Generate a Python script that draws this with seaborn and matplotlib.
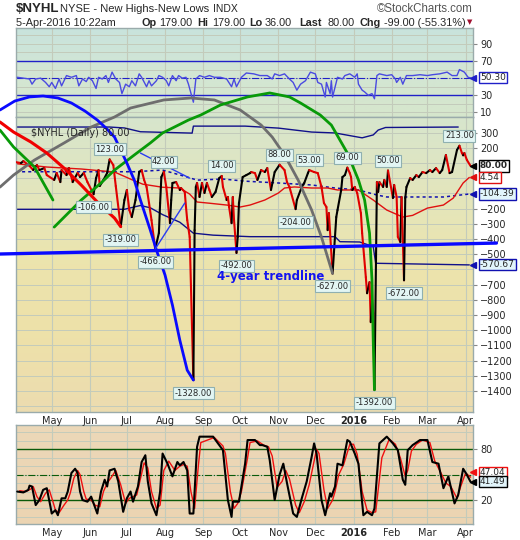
import numpy as np
import pandas as pd
import matplotlib
matplotlib.use("Agg")
import matplotlib.pyplot as plt
import matplotlib.dates as mdates
import matplotlib.transforms as mtransforms
from matplotlib.collections import LineCollection
from matplotlib.colors import LinearSegmentedColormap
from matplotlib.lines import Line2D
import seaborn as sns

# === style ===
sns.set_style("white")
plt.rcParams["font.family"] = ["DejaVu Sans"]
plt.rcParams["savefig.dpi"] = 100

W, H = 520, 540
BASE = pd.Timestamp("2015-04-02")  # first bar of the chart, overlays are "days after BASE"

# === $NYHL daily values ===
NYHL_DATES = [
    "2015-04-02", "2015-04-06", "2015-04-08", "2015-04-13", "2015-04-16", "2015-04-19", "2015-04-21",
    "2015-04-25", "2015-04-27", "2015-05-03", "2015-05-05", "2015-05-08", "2015-05-09", "2015-05-13",
    "2015-05-15", "2015-05-18", "2015-05-22", "2015-05-24", "2015-05-27", "2015-05-30", "2015-06-04",
    "2015-06-06", "2015-06-08", "2015-06-09", "2015-06-12", "2015-06-15", "2015-06-17", "2015-06-20",
    "2015-06-22", "2015-06-26", "2015-06-29", "2015-07-01", "2015-07-03", "2015-07-05", "2015-07-08",
    "2015-07-11", "2015-07-13", "2015-07-15", "2015-07-17", "2015-07-19", "2015-07-21", "2015-07-24",
    "2015-07-27", "2015-07-28", "2015-07-29", "2015-07-31", "2015-08-02", "2015-08-05", "2015-08-06",
    "2015-08-07", "2015-08-10", "2015-08-13", "2015-08-14", "2015-08-17", "2015-08-18", "2015-08-19",
    "2015-08-21", "2015-08-24", "2015-08-25", "2015-08-26", "2015-08-27", "2015-08-29", "2015-08-31",
    "2015-09-02", "2015-09-04", "2015-09-06", "2015-09-08", "2015-09-11", "2015-09-14", "2015-09-16",
    "2015-09-17", "2015-09-20", "2015-09-21", "2015-09-22", "2015-09-24", "2015-09-25", "2015-09-26",
    "2015-09-28", "2015-09-29", "2015-09-30", "2015-10-03", "2015-10-06", "2015-10-09", "2015-10-10",
    "2015-10-13", "2015-10-15", "2015-10-18", "2015-10-21", "2015-10-23", "2015-10-26", "2015-10-29",
    "2015-11-02", "2015-11-06", "2015-11-08", "2015-11-10", "2015-11-15", "2015-11-16", "2015-11-20",
    "2015-11-22", "2015-11-25", "2015-11-26", "2015-11-30", "2015-12-03", "2015-12-06", "2015-12-08",
    "2015-12-10", "2015-12-11", "2015-12-12", "2015-12-15", "2015-12-18", "2015-12-19", "2015-12-22",
    "2015-12-23", "2015-12-25", "2015-12-27", "2015-12-29", "2015-12-30", "2015-12-31", "2016-01-02",
    "2016-01-04", "2016-01-07", "2016-01-08", "2016-01-11", "2016-01-12", "2016-01-14", "2016-01-15",
    "2016-01-16", "2016-01-17", "2016-01-18", "2016-01-20", "2016-01-21", "2016-01-22", "2016-01-25",
    "2016-01-26", "2016-01-28", "2016-01-29", "2016-02-02", "2016-02-03", "2016-02-05", "2016-02-06",
    "2016-02-08", "2016-02-09", "2016-02-11", "2016-02-12", "2016-02-13", "2016-02-16", "2016-02-18",
    "2016-02-21", "2016-02-23", "2016-02-26", "2016-02-29", "2016-03-03", "2016-03-05", "2016-03-08",
    "2016-03-11", "2016-03-13", "2016-03-16", "2016-03-19", "2016-03-21", "2016-03-25", "2016-03-27",
    "2016-03-29", "2016-03-30", "2016-03-31", "2016-04-02", "2016-04-05",
]
NYHL_VALUES = [
    105, 99, 112, 80, 53, 86, 53, 66, 20, -12, 34, -26, 53, 20,
    66, -26, 34, 7, 34, -26, -106, 0, 53, -52, -12, 34, 123, 86,
    -52, -319, -144, -78, -210, -256, -144, 40, 53, -12, -58, -164, -276, -466,
    -361, -164, 7, 42, -58, -296, -144, -32, -26, -78, -65, -91, -190, -276,
    -387, -1328, -342, -58, -32, -124, -32, -98, -32, -78, -124, -91, 0, 14,
    -58, -144, -124, -190, -296, -124, -276, -492, -387, -164, 7, 20, 33, 40,
    33, -12, 53, 40, 66, -78, 40, 88, 53, -26, -58, -204, -144, -58,
    -32, 33, 53, 40, 33, -58, -164, -190, -342, -230, -627, -256, -210, -78,
    7, 20, 69, 33, 7, -78, -58, -98, -230, -362, -651, -757, -684, -947,
    -800, -888, -1392, -26, -91, -26, -58, -12, -58, 50, -131, -45, -124, -387,
    -420, -124, -672, -131, -58, 0, -12, 20, 7, 40, 33, 53, 40, 66,
    33, 53, 152, 33, 40, 185, 213, 165, 150, 165, 120, 80,
]

# callout boxes on the price line
LABEL_DATES = ["2015-06-04", "2015-06-17", "2015-06-26", "2015-07-24", "2015-07-31", "2015-08-24",
               "2015-09-16", "2015-09-28", "2015-11-02", "2015-11-15", "2015-11-26", "2015-12-15",
               "2015-12-27", "2016-01-18", "2016-01-29", "2016-02-11", "2016-03-27"]
LABEL_VALUES = [-106, 123, -319, -466, 42, -1328, 14, -492, 88, -204, 53, -627, 69, -1392, 50, -672, 213]

# moving averages and bands (days after BASE)
MA_FAST_DAY = [0, 11, 25, 53, 80, 94, 103, 119, 133, 141, 147, 157, 171, 182, 190, 202, 213, 218,
               226, 240, 253, 261, 278, 290, 301, 314, 322, 334, 347, 355, 363, 368]
MA_FAST = [95, 85, 73, 60, 40, -10, -40, -60, -65, -105, -157, -165, -177, -190, -177, -144, -98, -65,
           -58, -65, -65, -78, -78, -144, -210, -256, -245, -197, -177, -131, -32, 4.54]
MA_SLOW_DAY = [0, 96, 119, 139, 147, 168, 186, 213, 240, 259, 278, 293, 301, 347, 368]
MA_SLOW = [42, 42, 53, 7, -13, -6, -20, -32, -45, -65, -78, -111, -124, -124, -104.39]
BAND_UP_DAY = [0, 76, 88, 101, 143, 144, 186, 213, 240, 259, 281, 290, 294, 300, 359]
BAND_UP = [336, 336, 330, 305, 296, 342, 342, 329, 303, 297, 265, 284, 316, 333, 336]
BAND_LO_DAY = [0, 88, 101, 109, 119, 133, 144, 160, 190, 259, 263, 279, 290, 292, 368]
BAND_LO = [-205, -205, -180, -195, -240, -290, -362, -375, -385, -385, -418, -420, -450, -560, -570.67]

# hand-drawn annotations (days after BASE, value)
ARC_BLUE_DAY = [-13, -1, 11, 22, 34, 45, 56, 66, 73, 80, 85, 90, 96, 101, 109, 114, 121, 127, 133, 139, 144]
ARC_BLUE = [448, 507, 534, 540, 527, 494, 441, 382, 330, 270, 185, 99, -12, -144, -341, -473, -638,
            -835, -1066, -1263, -1328]
ARC_GRAY_DAY = [-13, -2, 15, 39, 61, 80, 93, 120, 142, 161, 182, 199, 208, 218, 229, 240, 248, 257]
ARC_GRAY = [-59, 20, 119, 231, 336, 402, 461, 514, 527, 514, 448, 349, 270, 152, -12, -210, -388, -627]
ARC_GREEN_DAY = [31, 53, 69, 80, 96, 109, 119, 140, 150, 166, 188, 206, 222, 231, 247, 256, 269, 278,
                 283, 287, 289, 290, 291]
ARC_GREEN = [-322, -144, -32, 53, 152, 231, 297, 382, 415, 481, 534, 560, 534, 494, 415, 349, 165, -12,
             -144, -362, -671, -1066, -1392]
ARC_GREEN2_DAY = [-13, -2, 15, 30]
ARC_GREEN2 = [316, 205, 73, -144]
ARC_RED_DAY = [-13, -2, 12, 25, 39, 53, 66, 80, 85]
ARC_RED = [369, 303, 238, 165, 66, -46, -157, -263, -319]
THIN1_DAY, THIN1 = [113, 137], [-466, -164]
THIN2_DAY, THIN2 = [101, 141], [165, 0]
TREND_DAY, TREND = [-13, 390], [-499, -427]

# === upper panel oscillator ===
RSI_DAY = [1, 6, 11, 13, 16, 20, 24, 27, 29, 32, 35, 37, 41, 45, 49, 51, 54, 57, 59, 62, 65, 67, 70, 73,
           75, 78, 81, 84, 86, 89, 92, 94, 97, 100, 102, 106, 108, 110, 114, 116, 119, 122, 124, 127,
           130, 132, 135, 138, 140, 144, 146, 149, 153, 157, 161, 166, 171, 175, 177, 179, 183, 187,
           193, 198, 204, 208, 210, 214, 218, 222, 225, 228, 231, 235, 239, 243, 245, 248, 251, 252,
           255, 256, 257, 261, 265, 267, 271, 275, 277, 278, 281, 283, 286, 289, 291, 293, 295, 301,
           305, 308, 309, 312, 314, 317, 322, 328, 334, 338, 344, 350, 354, 358, 360, 364, 367, 369]
RSI = [51, 50, 49, 43, 49, 50, 45, 40, 45, 38, 49, 41, 53, 51, 53, 41, 49, 46, 51, 47, 38, 51, 49, 53,
       45, 57, 49, 45, 32, 43, 40, 47, 41, 55, 51, 40, 47, 41, 47, 53, 51, 47, 41, 53,
       47, 53, 50, 51, 43, 22, 49, 53, 51, 53, 51, 51, 49, 40, 49, 40, 51, 56,
       55, 53, 53, 49, 55, 53, 55, 49, 45, 36, 43, 47, 57, 55, 45, 43, 28, 45,
       32, 47, 28, 51, 49, 53, 55, 51, 55, 43, 36, 34, 30, 32, 26, 53, 55, 53,
       54, 49, 45, 51, 43, 53, 53, 54, 53, 54, 55, 57, 53, 53, 60, 57, 51, 50.3]

# === lower panel stochastics ===
STO_K_DAY = [1, 6, 10, 11, 13, 16, 19, 22, 25, 28, 29, 32, 34, 37, 40, 42, 45, 48, 50, 52, 54, 58, 61,
             66, 69, 72, 74, 76, 80, 83, 87, 90, 93, 95, 99, 102, 105, 107, 110, 114, 117, 119, 123,
             127, 131, 133, 136, 139, 141, 144, 147, 149, 160, 166, 168, 172, 175, 176, 181, 186, 188,
             194, 198, 200, 204, 206, 210, 214, 217, 220, 225, 228, 232, 236, 240, 242, 244, 248, 251,
             255, 256, 259, 261, 265, 269, 271, 275, 278, 282, 285, 289, 291, 295, 301, 306, 310, 314,
             316, 318, 322, 328, 334, 338, 343, 347, 351, 356, 359, 363, 366, 369]
STO_K = [30, 29, 32, 37, 36, 14, 20, 32, 34, 12, 4, 8, 2, 22, 22, 30, 52, 57, 52, 30, 20, 18, 24,
         4, 30, 44, 36, 55, 57, 42, 6, 22, 30, 18, 36, 65, 73, 42, 16, 2, 30, 75, 63,
         48, 65, 61, 65, 55, 4, 4, 83, 95, 95, 83, 79, 20, 0, 18, 18, 63, 91,
         91, 85, 85, 83, 67, 20, 50, 63, 40, 4, 0, 22, 42, 71, 87, 75, 20, 2,
         28, 24, 36, 63, 61, 91, 89, 75, 63, 2, 6, 2, 10, 87, 95, 87, 79, 44,
         38, 79, 85, 91, 91, 65, 63, 34, 48, 16, 26, 57, 50, 41.49]
STO_D_DAY = [3, 8, 12, 14, 17, 20, 24, 27, 30, 32, 35, 39, 42, 44, 47, 50, 52, 55, 57, 61, 64, 68, 71,
             74, 77, 81, 85, 89, 92, 95, 98, 101, 104, 107, 110, 114, 117, 120, 124, 129, 133, 136,
             139, 142, 145, 148, 150, 161, 168, 170, 174, 177, 180, 183, 188, 190, 196, 201, 205, 208,
             212, 216, 219, 222, 227, 230, 234, 238, 242, 244, 246, 250, 253, 257, 259, 262, 266, 271,
             274, 277, 281, 285, 289, 292, 297, 303, 308, 312, 316, 318, 321, 325, 330, 336, 340, 345,
             349, 353, 358, 361, 365, 369]
STO_D = [31, 30, 33, 36, 24, 18, 28, 32, 18, 8, 5, 14, 20, 28, 46, 55, 50, 30, 21, 20, 14, 12, 30,
         40, 46, 55, 38, 16, 22, 24, 26, 45, 64, 58, 30, 10, 14, 55, 66, 55, 60, 62,
         60, 30, 10, 60, 88, 94, 84, 75, 30, 10, 16, 30, 70, 88, 90, 85, 83, 72,
         35, 42, 55, 45, 14, 5, 18, 38, 66, 80, 75, 32, 10, 20, 30, 50, 62, 86,
         86, 74, 30, 8, 5, 6, 70, 92, 86, 70, 48, 55, 78, 86, 91, 88, 66, 52,
         40, 36, 22, 36, 52, 47.04]

MONTH_TICKS = pd.date_range("2015-05-01", "2016-04-01", freq="MS")
MONTH_LABELS = ["May", "Jun", "Jul", "Aug", "Sep", "Oct", "Nov", "Dec", "2016", "Feb", "Mar", "Apr"]
GRID = "#c3cbbb"


def days(offsets):
    return BASE + pd.to_timedelta(offsets, unit="D")


def box(x0, y0, x1, y1):
    # pixel box (top-left origin) -> figure fraction rect
    return [x0 / W, 1 - y1 / H, (x1 - x0) / W, (y1 - y0) / H]


def paint(ax, colors):
    cmap = LinearSegmentedColormap.from_list("bg", colors)
    grad = np.linspace(0, 1, 256).reshape(-1, 1)
    ax.imshow(grad, cmap=cmap, aspect="auto", extent=(0, 1, 0, 1),
              transform=ax.transAxes, origin="upper", zorder=0)


def frame(ax, ylim, yticks, grid_step):
    ax.set_facecolor("none")
    ax.set_xlim(days(0), days(371))
    ax.set_ylim(*ylim)
    for s in ax.spines.values():
        s.set_color("#9aabab")
        s.set_linewidth(1)
    for g in np.arange(np.ceil(ylim[0] / grid_step) * grid_step, ylim[1], grid_step):
        ax.axhline(g, color=GRID, lw=0.7, zorder=0.5)
    for m in MONTH_TICKS:
        ax.axvline(m, color=GRID, lw=0.8, zorder=0.5)
    ax.yaxis.tick_right()
    ax.set_yticks(yticks)
    ax.tick_params(axis="y", labelsize=7, length=3, color="#888888", pad=2)
    ax.set_xticks(MONTH_TICKS)
    ax.tick_params(axis="x", length=0, labelsize=7, pad=3)
    ax.set_xlabel("")
    ax.set_ylabel("")


def month_labels(ax):
    labs = ax.set_xticklabels(MONTH_LABELS)
    labs[8].set_fontweight("bold")


def tag(ax, val, text, ec, fc="white", bold=False, shown=None):
    # value tag on the right edge; 'shown' lets a tag sit slightly off its value
    tr = mtransforms.blended_transform_factory(ax.transAxes, ax.transData)
    y = val if shown is None else shown
    ax.plot([1.0], [y], marker="<", ms=4, color=ec, transform=tr, clip_on=False, zorder=11)
    ax.annotate(text, xy=(1, y), xycoords=tr, xytext=(7, 0), textcoords="offset pixels",
                ha="left", va="center", fontsize=6.5, fontweight="bold" if bold else "normal",
                bbox=dict(boxstyle="square,pad=0.12", fc=fc, ec=ec, lw=1),
                zorder=10, annotation_clip=False)


fig = plt.figure(figsize=(W / 100, H / 100), dpi=100)
fig.patch.set_facecolor("white")

ax_top = fig.add_axes(box(16, 28, 473, 117.3))
ax_main = fig.add_axes(box(16, 117.3, 473, 412))
ax_sto = fig.add_axes(box(16, 425, 473, 524))
ax_main.set_zorder(3)
ax_top.set_zorder(1)

# === top panel ===
paint(ax_top, ["#c8e3dd", "#d3e6d4", "#d6e6cc"])
sns.lineplot(x=days(RSI_DAY), y=RSI, ax=ax_top, color="#4a4ae0", lw=1, estimator=None, zorder=3)
ax_top.axhline(70, color="#2020c8", lw=1, zorder=2)
ax_top.axhline(30, color="#2020c8", lw=1, zorder=2)
ax_top.axhline(50, color="#2020c8", lw=0.8, ls="-.", zorder=2)
frame(ax_top, (4.4, 108.4), [10, 30, 70, 90], 10)
ax_top.set_xticklabels([])
tag(ax_top, RSI[-1], f"{RSI[-1]:.2f}", "#2020c8")

# === main panel ===
paint(ax_main, ["#d7e5cd", "#e3e6bd", "#ece4ad", "#eee1a9", "#ecdcb0"])
sns.lineplot(x=days(BAND_UP_DAY), y=BAND_UP, ax=ax_main, color="#10108a", lw=1, estimator=None, zorder=2)
sns.lineplot(x=days(BAND_LO_DAY), y=BAND_LO, ax=ax_main, color="#10108a", lw=1, estimator=None, zorder=2)
sns.lineplot(x=days(MA_SLOW_DAY), y=MA_SLOW, ax=ax_main, color="#1010b0", lw=1.1, estimator=None,
             zorder=2, dashes=False, linestyle=(0, (2, 2)))
sns.lineplot(x=days(MA_FAST_DAY), y=MA_FAST, ax=ax_main, color="#e01010", lw=1, estimator=None, zorder=2)

# price line: black on up days, red on down days
nx = mdates.date2num(pd.to_datetime(NYHL_DATES))
ny = np.array(NYHL_VALUES, dtype=float)
segs = np.stack([np.column_stack([nx[:-1], ny[:-1]]), np.column_stack([nx[1:], ny[1:]])], axis=1)
cols = np.where(ny[1:] < ny[:-1], "#e00000", "#000000")
ax_main.add_collection(LineCollection(segs, colors=cols, linewidths=1.5, zorder=3, capstyle="round"))

# hand-drawn arcs and trendlines
for d, v, c, lw in [(ARC_GRAY_DAY, ARC_GRAY, "#6e6e6e", 2), (ARC_GREEN_DAY, ARC_GREEN, "#089a08", 2),
                    (ARC_GREEN2_DAY, ARC_GREEN2, "#089a08", 2), (ARC_BLUE_DAY, ARC_BLUE, "#0a0aff", 2),
                    (ARC_RED_DAY, ARC_RED, "#f00000", 2.2), (THIN1_DAY, THIN1, "#2a3cf0", 1),
                    (THIN2_DAY, THIN2, "#2a3cf0", 1), (TREND_DAY, TREND, "#0a0aff", 2.4)]:
    sns.lineplot(x=days(d), y=v, ax=ax_main, color=c, lw=lw, estimator=None, sort=False,
                 clip_on=False, zorder=4)

for d, v in zip(LABEL_DATES, LABEL_VALUES):
    ax_main.annotate(f"{v:.2f}", xy=(pd.Timestamp(d), v), xytext=(0, 10 if v > 0 else -13),
                     textcoords="offset pixels", ha="center", va="center", fontsize=6,
                     bbox=dict(boxstyle="square,pad=0.18", fc="#e2f5f3", ec="#8fb0b0", lw=0.8),
                     zorder=8, annotation_clip=False)

ax_main.text(days(207), -645, "4-year trendline", color="#1414f0", fontsize=8.5,
             fontweight="bold", ha="center", va="center", zorder=8)

frame(ax_main, (-1538, 400), [300, 200, -200, -300, -400, -500] + list(range(-700, -1401, -100)), 100)
ax_main.set_xticks(MONTH_TICKS)
month_labels(ax_main)
tag(ax_main, NYHL_VALUES[-1], f"{NYHL_VALUES[-1]:.2f}", "black", bold=True)
tag(ax_main, MA_FAST[-1], f"{MA_FAST[-1]:.2f}", "#e01010")
tag(ax_main, MA_SLOW[-1], f"{MA_SLOW[-1]:.2f}", "#1010b0", fc="#e2f5fb")
tag(ax_main, BAND_LO[-1], f"{BAND_LO[-1]:.2f}", "#1010b0", fc="#e2f5fb")

# legend
fig.add_artist(Line2D([21 / W, 28 / W], [1 - 133.5 / H] * 2, color="black", lw=2.5))
fig.text(31 / W, 1 - 133.5 / H, f"$NYHL (Daily) {NYHL_VALUES[-1]:.2f}", fontsize=7, va="center")

# === stochastic panel ===
paint(ax_sto, ["#ecd8b8", "#ebd4b2"])
ax_sto.axhline(80, color="#0a5a0a", lw=1, zorder=2)
ax_sto.axhline(20, color="#0a5a0a", lw=1, zorder=2)
ax_sto.axhline(50, color="#0a5a0a", lw=0.8, ls="-.", zorder=2)
sns.lineplot(x=days(STO_D_DAY), y=STO_D, ax=ax_sto, color="#f01010", lw=1, estimator=None, zorder=3)
sns.lineplot(x=days(STO_K_DAY), y=STO_K, ax=ax_sto, color="black", lw=1.5, estimator=None, zorder=4)
frame(ax_sto, (-8.4, 108.8), [20, 80], 10)
month_labels(ax_sto)
tag(ax_sto, STO_D[-1], f"{STO_D[-1]:.2f}", "#f01010", shown=53)
tag(ax_sto, STO_K[-1], f"{STO_K[-1]:.2f}", "black", fc="#e2f5fb")

# === header ===
def head(px, py, s, **kw):
    kw.setdefault("family", ["Liberation Sans", "DejaVu Sans"])
    fig.text(px / W, 1 - py / H, s, va="center", **kw)

head(16, 9.5, "$NYHL", fontsize=9.5, fontweight="bold")
head(60, 9.5, "NYSE - New Highs-New Lows", fontsize=8)
head(213, 9.5, "INDX", fontsize=7.5)
head(473, 9.5, "\u00a9StockCharts.com", fontsize=8.3, color="#555555", ha="right")
head(16, 22.5, "5-Apr-2016 10:22am", fontsize=7.8)
for px, s, b in [(142, "Op", True), (159, "179.00", False), (197, "Hi", True), (212, "179.00", False),
                 (249, "Lo", True), (265, "36.00", False), (299, "Last", True), (328, "80.00", False),
                 (360, "Chg", True), (384, "-99.00 (-55.31%)", False)]:
    head(px, 22.5, s, fontsize=7.8, fontweight="bold" if b else "normal")
head(467, 22.5, "\u25bc", fontsize=5, color="#a01030", family=["DejaVu Sans"])

plt.savefig("out.png", dpi=100, facecolor="white")
plt.close()
